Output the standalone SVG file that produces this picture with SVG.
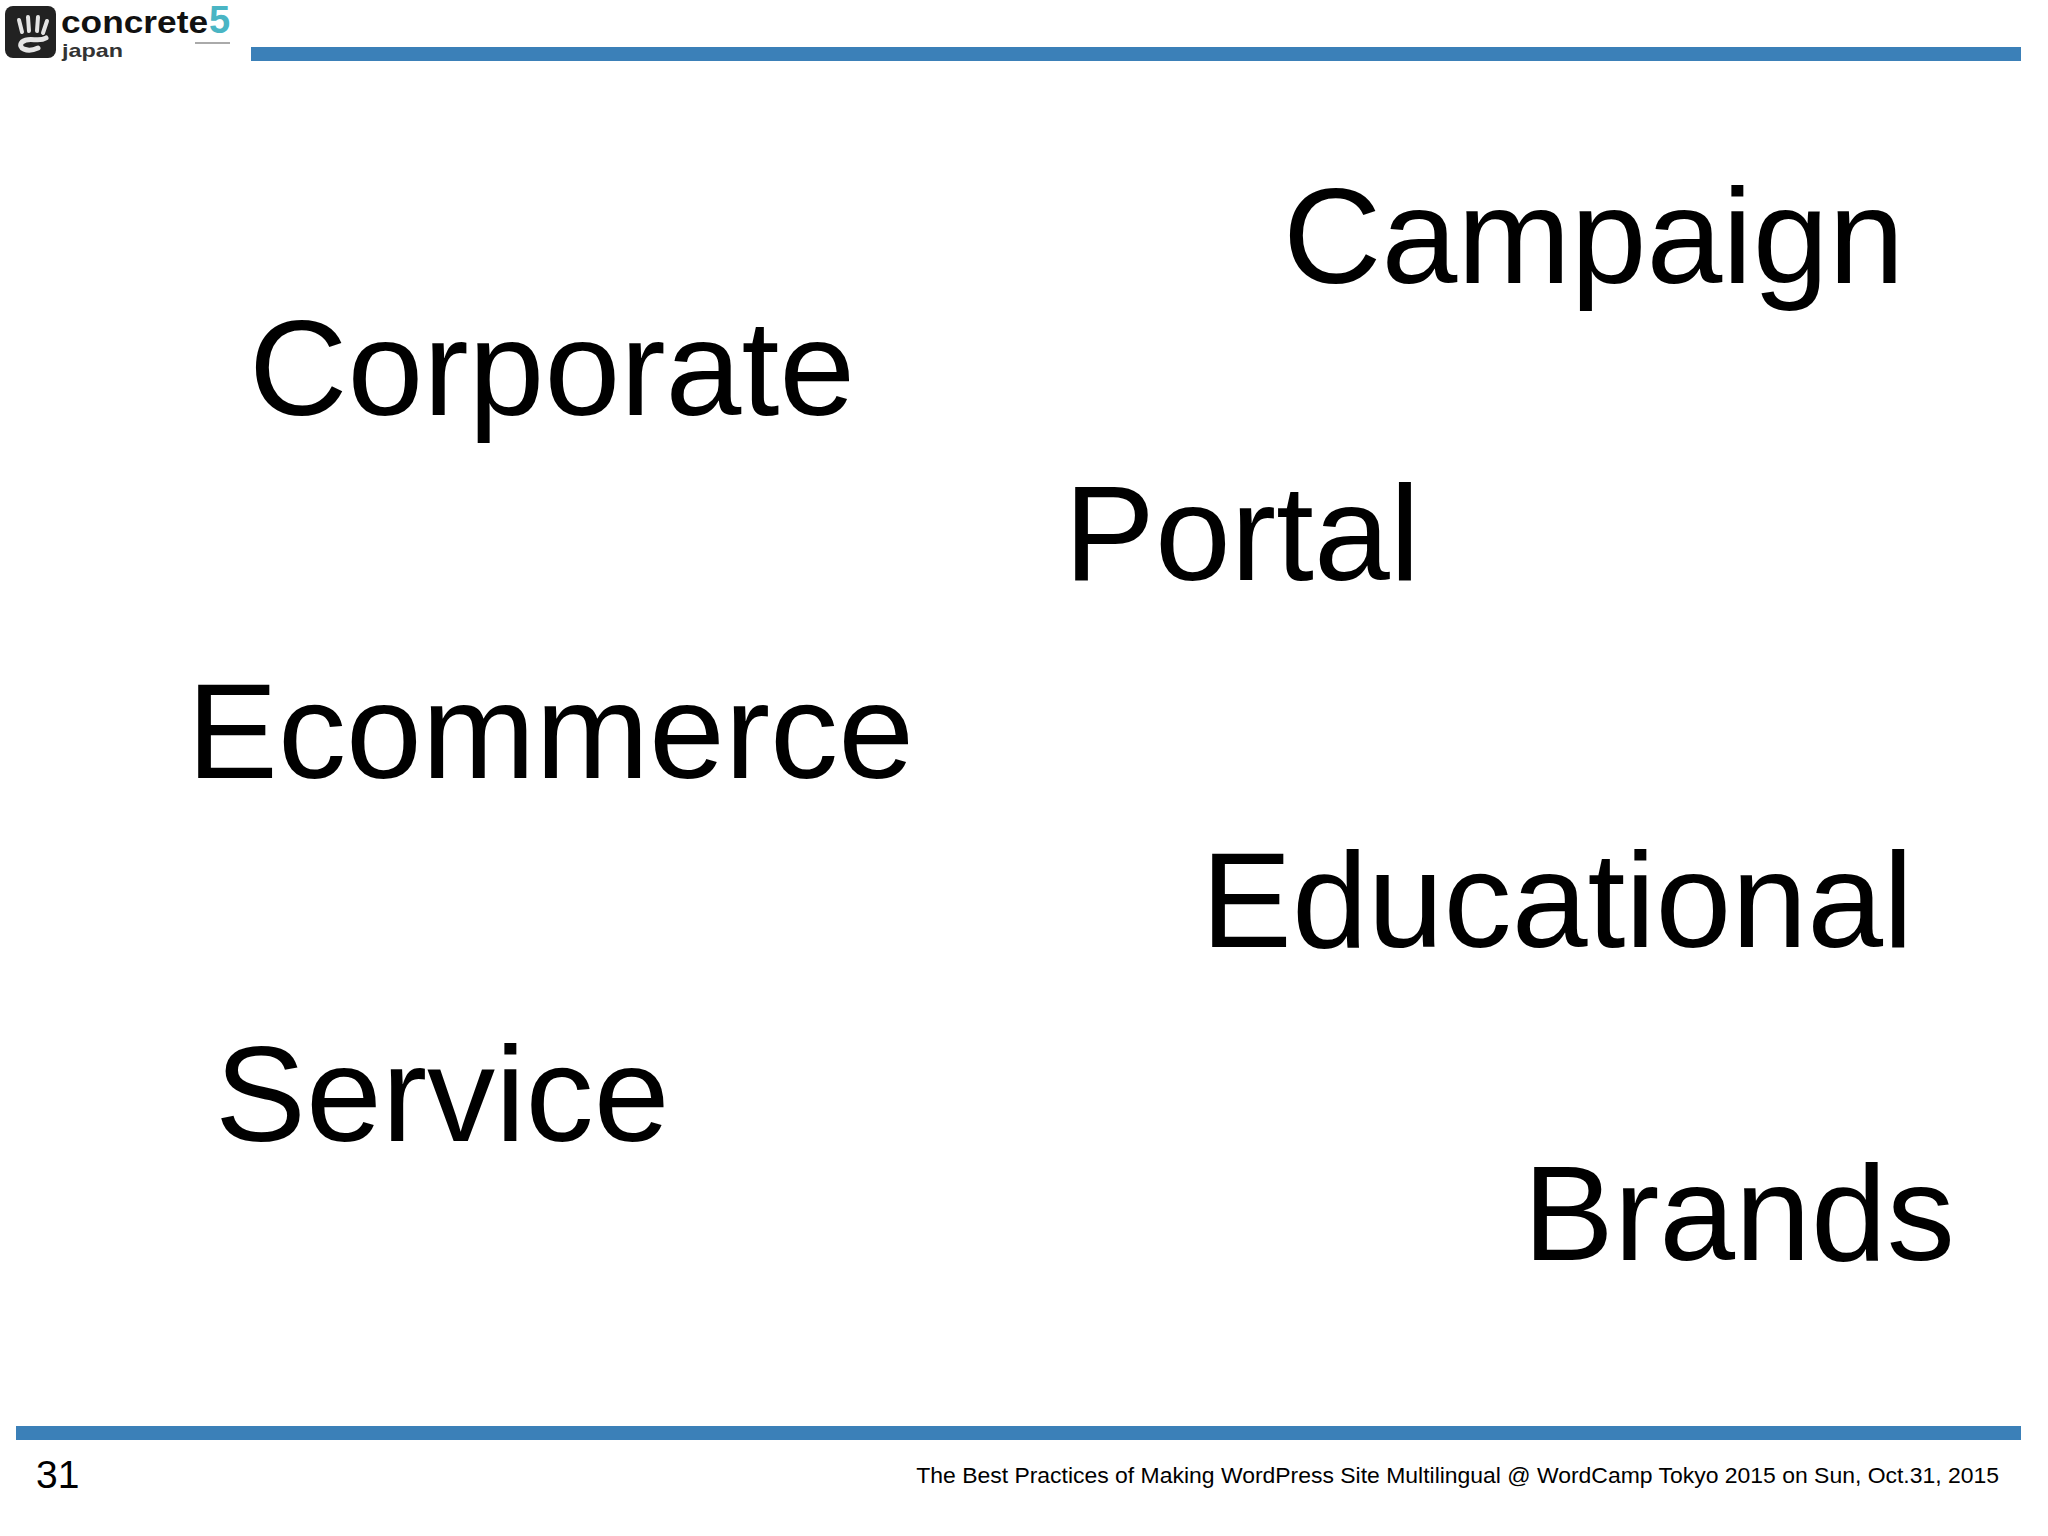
<svg xmlns="http://www.w3.org/2000/svg" width="2048" height="1536" viewBox="0 0 2048 1536">
<style>
text{font-family:"Liberation Sans",Arial,sans-serif;fill:#000}
.big{font-size:136.3px}
.bar{fill:#3b80b8}
</style>
<rect width="2048" height="1536" fill="#fff"/>
<g id="logo">
<rect x="5" y="6" width="51" height="52" rx="8" fill="#222"/>
<g fill="none" stroke="#e4e4e4" stroke-linecap="round">
<path d="M19 20l3 12M28 17l1 14M38 17l-1 14M47 21l-4 12" stroke-width="4"/>
<path d="M46 38C38 43 29 36 22 42C17 48 27 53 38 48" stroke-width="5"/>
</g>
<text x="61" y="33" font-size="32" font-weight="bold" textLength="147" lengthAdjust="spacingAndGlyphs" style="fill:#111">concrete</text>
<text x="209" y="33" font-size="38" font-weight="bold" style="fill:#4ab5c4">5</text>
<text x="62" y="57" font-size="19" font-weight="bold" textLength="61" lengthAdjust="spacingAndGlyphs" style="fill:#333">japan</text>
<rect x="195" y="42" width="35" height="2" fill="#aaa"/>
</g>
<rect id="top-bar" class="bar" x="251" y="47" width="1770" height="14"/>
<g id="campaign"><text class="big" x="1283" y="283">Campaign</text></g>
<g id="corporate"><text class="big" x="249" y="415">Corporate</text></g>
<g id="portal"><text class="big" x="1064" y="580">Portal</text></g>
<g id="ecommerce"><text class="big" x="187" y="778">Ecommerce</text></g>
<g id="educational"><text class="big" x="1201" y="947">Educational</text></g>
<g id="service"><text class="big" x="215" y="1141">Service</text></g>
<g id="brands"><text class="big" x="1523" y="1260">Brands</text></g>
<rect id="bottom-bar" class="bar" x="16" y="1426" width="2005" height="14"/>
<text id="page" x="36" y="1488" font-size="39">31</text>
<text id="footer" x="1999" y="1483" font-size="22.95" text-anchor="end">The Best Practices of Making WordPress Site Multilingual @ WordCamp Tokyo 2015 on Sun, Oct.31, 2015</text>
</svg>
